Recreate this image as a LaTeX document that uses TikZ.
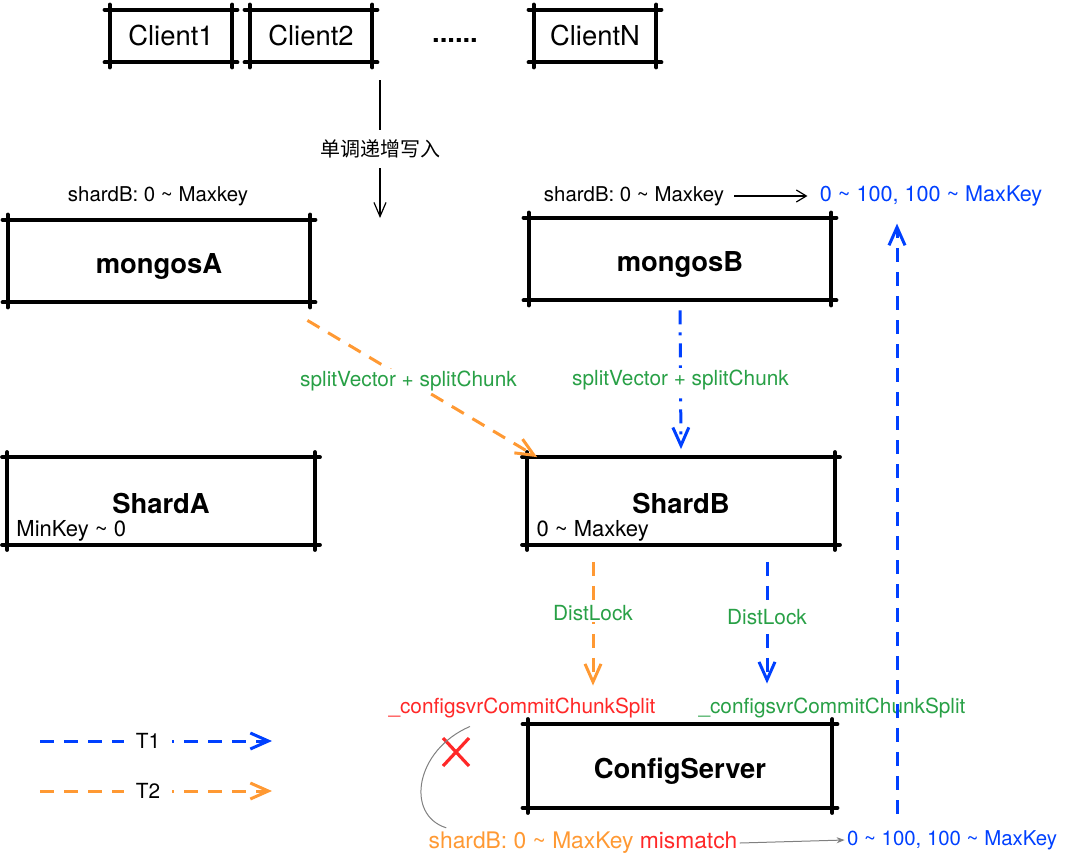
\documentclass[tikz,border=0pt]{standalone}
\usepackage{fontspec}
\setmainfont{TeX Gyre Heros}
\newfontfamily\cjk{Noto Sans CJK SC}
\usetikzlibrary{arrows.meta}
\definecolor{tblue}{RGB}{0,64,255}
\definecolor{torange}{RGB}{255,153,51}
\definecolor{tgreen}{RGB}{40,160,70}
\definecolor{tred}{RGB}{255,40,40}

\begin{document}
\begin{tikzpicture}[x=0.5pt,y=-0.5pt,>={Straight Barb[length=9pt,width=8pt]},
  box/.style={minimum width=151pt,minimum height=41pt,inner sep=0pt,text height=12pt,text depth=0pt,font=\bfseries\fontsize{13.7}{16}\selectfont},
  client/.style={minimum width=61pt,minimum height=26pt,inner sep=0pt,font=\fontsize{13.7}{16}\selectfont},
  rough/.style={line width=2pt,line cap=round},
  lbl/.style={font=\fontsize{10.4}{12}\selectfont,inner sep=1pt},
  t1/.style={draw=tblue,line width=1.5pt,dash pattern=on 7pt off 5pt},
  t1dot/.style={draw=tblue,line width=1.5pt,dash pattern=on 7pt off 4pt on 1.5pt off 4pt},
  t2/.style={draw=torange,line width=1.5pt,dash pattern=on 7pt off 5pt}]
  \useasboundingbox (0,0) rectangle (1068,862);

  % clients
  \node[client] (c1) at (171,36) {Client1};
  \node[client] (c2) at (311,36) {Client2};
  \node[client] (cN) at (595,36) {ClientN};
  \node[font=\bfseries\fontsize{13.7}{16}\selectfont,anchor=base] (dots) at (455,42) {......};

  % routers, shards, config
  \node[box] (ma) at (159,261) {mongosA};
  \node[box] (mb) at (680,259) {mongosB};
  \node[box,minimum width=153.5pt,minimum height=43.5pt] (sa) at (161,501) {ShardA};
  \node[box,minimum width=153.5pt,minimum height=43.5pt] (sb) at (681,501) {ShardB};
  \node[box,minimum width=152pt,minimum height=41.5pt] (cs) at (680,766) {ConfigServer};

  \foreach \n in {c1,c2,cN,ma,mb,sa,sb,cs} {
    \draw[rough] ([xshift=-2.5pt]\n.north west) -- ([xshift=2.5pt]\n.north east);
    \draw[rough] ([xshift=-2.5pt]\n.south west) -- ([xshift=2.5pt]\n.south east);
    \draw[rough] ([yshift=2.5pt]\n.north west) -- ([yshift=-2.5pt]\n.south west);
    \draw[rough] ([yshift=2.5pt]\n.north east) -- ([yshift=-2.5pt]\n.south east);
  }

  % writes
  \coordinate (wtop) at (380,80);
  \coordinate (wbot) at (380,218);
  \draw[line width=0.6pt,->,>={Straight Barb[length=7pt,width=6pt]}] (wtop) -- node[lbl,fill=white,inner sep=5pt,font=\cjk\fontsize{10}{12}\selectfont] (mono) {单调递增写入} (wbot);

  % routing tables
  \node[lbl,font=\fontsize{10.2}{12}\selectfont] (mAl) at (158,196) {shardB: 0 \textasciitilde{} Maxkey};
  \node[lbl,font=\fontsize{10.2}{12}\selectfont] (mBl) at (634,196) {shardB: 0 \textasciitilde{} Maxkey};
  \node[lbl,text=tblue,font=\fontsize{10.8}{12}\selectfont] (mBr) at (931,196) {0 \textasciitilde{} 100, 100 \textasciitilde{} MaxKey};
  \draw[line width=0.6pt,->,>={Straight Barb[length=5pt,width=6pt]}] ([xshift=4pt]mBl.east) -- ([xshift=-5pt]mBr.west);

  \node[lbl,font=\fontsize{11}{12}\selectfont,anchor=base west] (saK) at ([shift={(7,-8)}]sa.south west) {MinKey \textasciitilde{} 0};
  \node[lbl,font=\fontsize{11}{12}\selectfont,anchor=base west] (sbK) at ([shift={(7,-8)}]sb.south west) {0 \textasciitilde{} Maxkey};

  % split
  \draw[t2,->] ([shift={(-3,18)}]ma.south east) -- node[lbl,pos=0.44,fill=white,text=tgreen] {splitVector + splitChunk} ([shift={(10,0)}]sb.north west);
  \draw[t1dot,->] ([yshift=-5pt]mb.south) -- node[lbl,fill=white,text=tgreen] {splitVector + splitChunk} ([yshift=4pt]sb.north);

  % commit
  \node[lbl,text=tred] (cfR) at (522,708) {\_configsvrCommitChunkSplit};
  \node[lbl,text=tgreen] (cfG) at (832,708) {\_configsvrCommitChunkSplit};
  \draw[t2,->] ([shift={(-88,17)}]sb.south) -- node[lbl,pos=0.41,fill=white,text=tgreen] {DistLock} ([shift={(71,-10)}]cfR.north);
  \draw[t1,->] ([shift={(86,17)}]sb.south) -- node[lbl,pos=0.45,fill=white,text=tgreen] {DistLock} ([shift={(-65,-12)}]cfG.north);

  % mismatch
  \coordinate (xm) at (456,752);
  \draw[tred,line width=1.6pt] ([shift={(-13,-14)}]xm) -- ([shift={(13,14)}]xm);
  \draw[tred,line width=1.6pt] ([shift={(13,-14)}]xm) -- ([shift={(-13,14)}]xm);
  \node[lbl,font=\fontsize{11.4}{13}\selectfont] (mis) at (583,843) {\textcolor{torange}{shardB: 0 \textasciitilde{} MaxKey} \textcolor{tred}{mismatch}};
  \node[lbl,text=tblue,font=\fontsize{10.2}{12}\selectfont] (botB) at (952,840) {0 \textasciitilde{} 100, 100 \textasciitilde{} MaxKey};
  \draw[gray,line width=0.5pt] ([shift={(-52,6)}]cfR.south) .. controls (415,750) and (405,815) .. ([shift={(20,-2)}]mis.north west);
  \draw[gray,line width=0.5pt,->,>={Stealth[length=4pt,width=3pt]}] (mis.east) -- (botB.west);
  \draw[t1,->] ([shift={(-55,-14)}]botB.north) -- ([shift={(-34,15)}]mBr.south);

  % legend
  \coordinate (l1a) at (40,741);
  \coordinate (l1b) at (272,741);
  \coordinate (l2a) at (40,791);
  \coordinate (l2b) at (272,791);
  \draw[t1,->] (l1a) -- node[lbl,pos=0.466,fill=white,inner sep=6pt,text=black] {T1} (l1b);
  \draw[t2,->] (l2a) -- node[lbl,pos=0.466,fill=white,inner sep=6pt,text=black] {T2} (l2b);
\end{tikzpicture}
\end{document}
